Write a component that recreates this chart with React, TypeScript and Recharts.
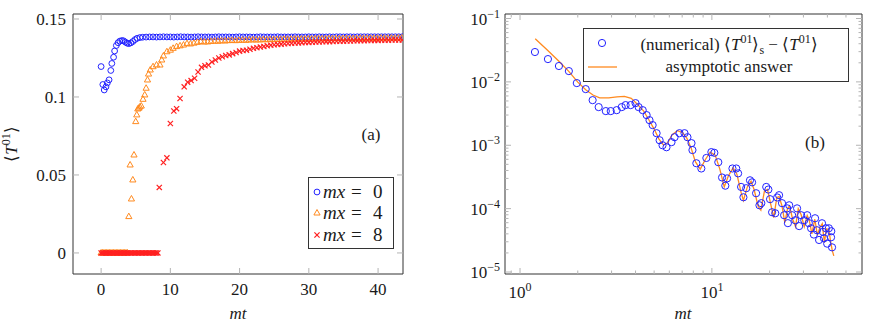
import React from "react";
import { ScatterChart, ComposedChart, Scatter, Line, XAxis, YAxis, ReferenceArea } from "recharts";

const FONT = "Liberation Serif";
const BLUE = "#2222ff";
const ORANGE = "#ff8a1f";
const RED = "#ff2020";
const TICK = "#b4b4b4";
const FRAME = "#333";
const INK = "#1a1a1a";

// ---- panel (a): <T01> against mt, three masses ----
const mx0: [number, number][] = [
  [0, 0.1195], [0.25, 0.108], [0.45, 0.1045], [0.7, 0.1065], [0.9, 0.109], [1.15, 0.111], [1.4, 0.117],
  [1.55, 0.1215], [1.8, 0.1255], [1.95, 0.1295], [2.2, 0.133], [2.45, 0.1348], [2.7, 0.1358], [3.0, 0.1362],
  [3.25, 0.136], [3.5, 0.1352], [3.75, 0.1345], [4.0, 0.1342], [4.3, 0.1347], [4.6, 0.1356], [4.9, 0.1368],
  [5.2, 0.1376], [5.6, 0.1381], [6.0, 0.1383], [6.5, 0.1384], [7.0, 0.1385], [7.5, 0.1385], [8.0, 0.1384],
  [8.5, 0.1385], [9.0, 0.1386], [9.5, 0.1385], [10.0, 0.1385], [10.5, 0.1384], [11.0, 0.1385], [11.5, 0.1386],
  [12.0, 0.1385], [12.5, 0.1385], [13.0, 0.1384], [13.5, 0.1385], [14.0, 0.1386], [14.5, 0.1385], [15.0, 0.1385],
  [15.5, 0.1385], [16.0, 0.1384], [16.5, 0.1385], [17.0, 0.1386], [17.5, 0.1385], [18.0, 0.1385], [18.5, 0.1385],
  [19.0, 0.1384], [19.5, 0.1385], [20.0, 0.1386], [20.5, 0.1385], [21.0, 0.1385], [21.5, 0.1385], [22.0, 0.1384],
  [22.5, 0.1385], [23.0, 0.1386], [23.5, 0.1385], [24.0, 0.1385], [24.5, 0.1385], [25.0, 0.1385], [25.5, 0.1386],
  [26.0, 0.1385], [26.5, 0.1385], [27.0, 0.1385], [27.5, 0.1385], [28.0, 0.1386], [28.5, 0.1385], [29.0, 0.1385],
  [29.5, 0.1385], [30.0, 0.1386], [30.5, 0.1385], [31.0, 0.1385], [31.5, 0.1386], [32.0, 0.1385], [32.5, 0.1385],
  [33.0, 0.1386], [33.5, 0.1385], [34.0, 0.1386], [34.5, 0.1386], [35.0, 0.1385], [35.5, 0.1386], [36.0, 0.1386],
  [36.5, 0.1385], [37.0, 0.1386], [37.5, 0.1386], [38.0, 0.1386], [38.5, 0.1386], [39.0, 0.1386], [39.5, 0.1386],
  [40.0, 0.1386], [40.5, 0.1386], [41.0, 0.1386], [41.5, 0.1386], [42.0, 0.1386], [42.5, 0.1386], [43.0, 0.1386],
  [43.5, 0.1386],
];

const mx4: [number, number][] = [
  [0, 0], [0.2, 0], [0.4, 0], [0.6, 0], [0.8, 0], [1.0, 0], [1.2, 0], [1.4, 0], [1.6, 0], [1.8, 0],
  [2.0, 0], [2.2, 0], [2.4, 0], [2.6, 0], [2.8, 0], [3.0, 0], [3.2, 0], [3.4, 0], [3.6, 0], [3.8, 0],
  [4.0, 0.0233], [4.19, 0.0564], [4.38, 0.0346], [4.58, 0.0468], [4.75, 0.0628], [5.0, 0.0842], [5.15, 0.0885],
  [5.3, 0.0923], [5.45, 0.0928], [5.6, 0.0936], [5.8, 0.0942], [6.05, 0.0985], [6.3, 0.1013], [6.5, 0.1056],
  [6.7, 0.1109], [6.85, 0.1147], [7.1, 0.1173], [7.5, 0.1194], [8.0, 0.1205], [8.5, 0.1205], [8.75, 0.1237],
  [9.0, 0.1263], [9.5, 0.129], [10.0, 0.13], [10.4, 0.1312], [10.9, 0.1323], [11.4, 0.1328], [11.9, 0.1333],
  [12.4, 0.1342], [12.9, 0.134], [13.4, 0.1345], [13.9, 0.135], [14.4, 0.1355], [14.9, 0.1352], [15.4, 0.1353],
  [15.9, 0.1356], [16.4, 0.1358], [16.9, 0.1357], [17.4, 0.136], [17.9, 0.1359], [18.4, 0.1361], [18.9, 0.1362],
  [19.4, 0.1361], [19.9, 0.1363], [20.4, 0.1364], [20.9, 0.1363], [21.4, 0.1365], [21.9, 0.1366], [22.4, 0.1365],
  [22.9, 0.1366], [23.4, 0.1367], [23.9, 0.1367], [24.4, 0.1368], [24.9, 0.1368], [25.4, 0.1369], [25.9, 0.1369],
  [26.4, 0.137], [26.9, 0.137], [27.4, 0.137], [27.9, 0.1371], [28.4, 0.1371], [28.9, 0.1371], [29.4, 0.1372],
  [29.9, 0.1372], [30.4, 0.1372], [30.9, 0.1373], [31.4, 0.1373], [31.9, 0.1373], [32.4, 0.1373], [32.9, 0.1374],
  [33.4, 0.1374], [33.9, 0.1374], [34.4, 0.1374], [34.9, 0.1375], [35.4, 0.1375], [35.9, 0.1375], [36.4, 0.1375],
  [36.9, 0.1375], [37.4, 0.1376], [37.9, 0.1376], [38.4, 0.1376], [38.9, 0.1376], [39.4, 0.1376], [39.9, 0.1377],
  [40.4, 0.1377], [40.9, 0.1377], [41.4, 0.1377], [41.9, 0.1377], [42.4, 0.1377], [42.9, 0.1378], [43.4, 0.1378],
];

const mx8: [number, number][] = [
  [0, 0], [0.2, 0], [0.4, 0], [0.6, 0], [0.8, 0], [1.0, 0], [1.2, 0], [1.4, 0], [1.6, 0], [1.8, 0],
  [2.0, 0], [2.2, 0], [2.4, 0], [2.6, 0], [2.8, 0], [3.0, 0], [3.2, 0], [3.4, 0], [3.6, 0], [3.8, 0],
  [4.0, 0], [4.2, 0], [4.4, 0], [4.6, 0], [4.8, 0], [5.0, 0], [5.2, 0], [5.4, 0], [5.6, 0], [5.8, 0],
  [6.0, 0], [6.2, 0], [6.4, 0], [6.6, 0], [6.8, 0], [7.0, 0], [7.2, 0], [7.4, 0], [7.6, 0], [7.8, 0],
  [8.0, 0], [8.2, 0],
  [8.4, 0.042], [9.0, 0.058], [9.5, 0.061], [10.0, 0.083], [10.5, 0.091], [10.9, 0.0925], [11.4, 0.099],
  [12.0, 0.1065], [12.5, 0.1095], [13.0, 0.1105], [13.5, 0.112], [14.0, 0.116], [14.5, 0.119], [15.0, 0.12],
  [15.5, 0.1205], [16.0, 0.1224], [16.5, 0.1237], [17.0, 0.125], [17.5, 0.1258], [18.0, 0.1266], [18.5, 0.127],
  [19.0, 0.1278], [19.5, 0.1285], [20.0, 0.1294], [20.5, 0.1298], [21.0, 0.13], [21.5, 0.1306], [22.0, 0.1312],
  [22.5, 0.1316], [23.0, 0.132], [23.5, 0.1324], [24.0, 0.1328], [24.5, 0.1332], [25.0, 0.1335], [25.5, 0.1337],
  [26.0, 0.1339], [26.5, 0.1341], [27.0, 0.1343], [27.5, 0.1344], [28.0, 0.1346], [28.5, 0.1347], [29.0, 0.1348],
  [29.5, 0.1349], [30.0, 0.135], [30.5, 0.1351], [31.0, 0.1352], [31.5, 0.1353], [32.0, 0.1354], [32.5, 0.1355],
  [33.0, 0.1355], [33.5, 0.1356], [34.0, 0.1357], [34.5, 0.1357], [35.0, 0.1358], [35.5, 0.1359], [36.0, 0.1359],
  [36.5, 0.136], [37.0, 0.136], [37.5, 0.1361], [38.0, 0.1361], [38.5, 0.1362], [39.0, 0.1362], [39.5, 0.1363],
  [40.0, 0.1363], [40.5, 0.1364], [41.0, 0.1364], [41.5, 0.1364], [42.0, 0.1365], [42.5, 0.1365], [43.0, 0.1365],
  [43.5, 0.1365],
];

const ticksA_x = [0, 10, 20, 30, 40];
const ticksA_y = [0, 0.05, 0.1, 0.15];
const labelsA_y: Record<number, string> = { 0: "0", 0.05: "0.05", 0.1: "0.1", 0.15: "0.15" };

// ---- panel (b): log-log, numerical vs asymptotic ----
const numerical: [number, number][] = [
  [1.196, 0.0296], [1.398, 0.0229], [1.595, 0.0178], [1.797, 0.0148], [1.977, 0.00957], [2.2, 0.00769],
  [2.39, 0.00515], [2.57, 0.004], [2.8, 0.00346], [2.97, 0.00346], [3.19, 0.00358], [3.39, 0.004], [3.55, 0.0043],
  [3.77, 0.0043], [4.0, 0.00462], [4.15, 0.004], [4.36, 0.00358], [4.57, 0.00299], [4.73, 0.00249], [4.91, 0.00208],
  [5.15, 0.00155], [5.34, 0.0012], [5.53, 0.001], [5.8, 0.00093], [6.16, 0.00112], [6.39, 0.00134], [6.78, 0.00155],
  [7.2, 0.00155], [7.46, 0.00134], [7.83, 0.00108], [7.92, 0.00084], [8.3, 0.00052], [8.81, 0.00043], [9.36, 0.00063],
  [9.94, 0.00078], [10.3, 0.00076], [10.8, 0.00054], [11.3, 0.00031], [11.75, 0.00023], [12.0, 0.0003], [12.8, 0.00043],
  [13.4, 0.00043], [13.7, 0.00036], [14.2, 0.00022], [14.6, 0.000151], [15.1, 0.00021], [15.8, 0.00028], [16.2, 0.00026],
  [17.0, 0.000175], [17.7, 0.000113], [18.1, 0.000122], [19.2, 0.00022], [19.7, 0.0002], [20.1, 0.000141],
  [20.6, 0.0000877], [21.4, 0.0000845], [21.9, 0.00015], [22.4, 0.000163], [23.2, 0.000122], [23.8, 0.0000787],
  [24.7, 0.000101], [24.9, 0.000059], [25.3, 0.000113], [26.2, 0.0000787], [27.2, 0.0000656], [27.8, 0.000101],
  [28.5, 0.000053], [29.2, 0.0000787], [30.3, 0.0000656], [31.4, 0.0000787], [32.0, 0.000059], [32.9, 0.000049],
  [34.0, 0.000039], [34.5, 0.0000705], [35.3, 0.0000456], [36.2, 0.000032], [37.5, 0.0000588], [37.9, 0.000043],
  [38.4, 0.000034], [39.3, 0.000049], [39.9, 0.000028], [40.7, 0.000049], [41.8, 0.0000353], [41.9, 0.000044],
  [42.3, 0.0000245],
];

const asymptotic: [number, number][] = [
  [1.2, 0.048], [1.4, 0.031], [1.6, 0.021], [1.8, 0.0145], [2.0, 0.0099], [2.2, 0.0075], [2.4, 0.0062], [2.6, 0.0056],
  [2.9, 0.0056], [3.2, 0.0058], [3.5, 0.0059], [3.8, 0.0055], [4.1, 0.0044], [4.4, 0.0035], [4.7, 0.0025], [5.0, 0.0018],
  [5.3, 0.00125], [5.6, 0.001], [5.9, 0.0011], [6.2, 0.00145], [6.6, 0.0017], [7.0, 0.0016], [7.4, 0.0013], [7.8, 0.0009],
  [8.2, 0.00055], [8.7, 0.00042], [9.2, 0.00058], [9.8, 0.00078], [10.4, 0.0007], [11.0, 0.00042], [11.6, 0.00022],
  [12.2, 0.00033], [12.9, 0.00044], [13.5, 0.00035], [14.2, 0.00018], [14.6, 0.000135], [15.3, 0.00022], [16.0, 0.00027],
  [16.6, 0.0002], [17.4, 0.00011], [18.0, 0.000095], [18.8, 0.00019], [19.5, 0.0002], [20.3, 0.000115], [21.0, 0.000072],
  [21.8, 0.00015], [22.4, 0.000155], [23.2, 0.00011], [24.0, 0.00006], [24.8, 0.0001], [25.4, 0.00011], [26.3, 0.00007],
  [27.3, 0.000052], [28.2, 0.0001], [29.2, 0.00008], [30.3, 0.000052], [31.4, 0.000078], [32.2, 0.000065], [33.2, 0.00004],
  [34.4, 0.000068], [35.5, 0.000038], [36.5, 0.00005], [37.6, 0.000058], [38.6, 0.000029], [39.5, 0.000048],
  [40.7, 0.000047], [41.6, 0.00003], [42.4, 0.000022], [43.2, 0.000018],
];

const ticksB_x = [0.9, 1, 2, 3, 4, 5, 6, 7, 8, 9, 10, 20, 30, 40, 50];
const ticksB_y = [
  1e-5, 2e-5, 3e-5, 4e-5, 5e-5, 6e-5, 7e-5, 8e-5, 9e-5,
  1e-4, 2e-4, 3e-4, 4e-4, 5e-4, 6e-4, 7e-4, 8e-4, 9e-4,
  1e-3, 2e-3, 3e-3, 4e-3, 5e-3, 6e-3, 7e-3, 8e-3, 9e-3,
  1e-2, 2e-2, 3e-2, 4e-2, 5e-2, 6e-2, 7e-2, 8e-2, 9e-2, 1e-1,
];
const decadesB_x: Record<number, string> = { 1: "0", 10: "1" };
const decadesB_y: Record<number, string> = { 1e-5: "\u22125", 1e-4: "\u22124", 1e-3: "\u22123", 1e-2: "\u22122", 1e-1: "\u22121" };

const toPts = (arr: [number, number][]) => arr.map(([t, v]) => ({ t, v }));

// plot boxes (chart-local coordinates)
const A = { left: 73, right: 403, top: 14, bottom: 274 };
const B = { left: 55, right: 412, top: 14, bottom: 274 };

const Circle = (r: number) => (p: any) => (
  <circle cx={p.cx} cy={p.cy} r={r} fill="none" stroke={BLUE} strokeWidth={1} />
);
const Tri = (p: any) => (
  <polygon points={`${p.cx},${p.cy - 3.5} ${p.cx - 3.1},${p.cy + 2} ${p.cx + 3.1},${p.cy + 2}`} fill="none" stroke={ORANGE} strokeWidth={1} />
);
const Cross = (p: any) => (
  <g stroke={RED} strokeWidth={1.2}>
    <line x1={p.cx - 2.6} y1={p.cy - 2.6} x2={p.cx + 2.6} y2={p.cy + 2.6} />
    <line x1={p.cx - 2.6} y1={p.cy + 2.6} x2={p.cx + 2.6} y2={p.cy - 2.6} />
  </g>
);

const txt = { fontSize: 17, fill: INK, style: { fontFamily: FONT } };

const TickAX = ({ x, payload }: any) => (
  <g>
    <line x1={x} x2={x} y1={A.bottom} y2={A.bottom - 6} stroke={TICK} />
    <line x1={x} x2={x} y1={A.top} y2={A.top + 6} stroke={TICK} />
    <text x={x} y={295} textAnchor="middle" {...txt}>{payload.value}</text>
  </g>
);
const TickAY = ({ y, payload }: any) => (
  <g>
    <line x1={A.left} x2={A.left + 6} y1={y} y2={y} stroke={TICK} />
    <line x1={A.right} x2={A.right - 6} y1={y} y2={y} stroke={TICK} />
    <text x={66} y={y + 6} textAnchor="end" {...txt}>{labelsA_y[payload.value]}</text>
  </g>
);
const TickBX = ({ x, payload }: any) => {
  const exp = decadesB_x[payload.value];
  const len = exp !== undefined ? 6 : 3.5;
  return (
    <g>
      <line x1={x} x2={x} y1={B.bottom} y2={B.bottom - len} stroke={TICK} />
      <line x1={x} x2={x} y1={B.top} y2={B.top + len} stroke={TICK} />
      {exp !== undefined && (
        <text x={x} y={298} textAnchor="middle" {...txt}>
          10<tspan dy={-7} fontSize={12}>{exp}</tspan>
        </text>
      )}
    </g>
  );
};
const TickBY = ({ y, payload }: any) => {
  const exp = decadesB_y[payload.value];
  const len = exp !== undefined ? 6 : 3.5;
  return (
    <g>
      <line x1={B.left} x2={B.left + len} y1={y} y2={y} stroke={TICK} />
      <line x1={B.right} x2={B.right - len} y1={y} y2={y} stroke={TICK} />
      {exp !== undefined && (
        <text x={50} y={y + 6} textAnchor="end" {...txt}>
          10<tspan dy={-7} fontSize={12}>{exp}</tspan>
        </text>
      )}
    </g>
  );
};

const xDomA: [number, number] = [-4.06, 43.6];
const yDomA: [number, number] = [-0.0135, 0.1532];
const xDomB: [number, number] = [0.835, 60.6];
const yDomB: [number, number] = [9.3e-6, 0.1178];

function PanelA() {
  return (
    <ScatterChart width={420} height={326} margin={{ top: 14, right: 17, bottom: 22, left: 0 }}>
      <XAxis type="number" dataKey="t" domain={xDomA} allowDataOverflow ticks={ticksA_x} interval={0}
        axisLine={false} tickLine={false} tick={<TickAX />} height={30} />
      <YAxis type="number" dataKey="v" domain={yDomA} allowDataOverflow ticks={ticksA_y} interval={0}
        axisLine={false} tickLine={false} tick={<TickAY />} width={73} />
      <Scatter data={toPts(mx0)} shape={Circle(2.9)} isAnimationActive={false} />
      <Scatter data={toPts(mx4)} shape={Tri} isAnimationActive={false} />
      <Scatter data={toPts(mx8)} shape={Cross} isAnimationActive={false} />
      <ReferenceArea x1={xDomA[0]} x2={xDomA[1]} y1={yDomA[0]} y2={yDomA[1]} fill="none" stroke={FRAME} strokeWidth={1} ifOverflow="visible" />
    </ScatterChart>
  );
}

function PanelB() {
  return (
    <ComposedChart width={422} height={326} margin={{ top: 14, right: 10, bottom: 22, left: 0 }}>
      <XAxis type="number" dataKey="t" scale="log" domain={xDomB} allowDataOverflow ticks={ticksB_x} interval={0}
        axisLine={false} tickLine={false} tick={<TickBX />} height={30} />
      <YAxis type="number" dataKey="v" scale="log" domain={yDomB} allowDataOverflow ticks={ticksB_y} interval={0}
        axisLine={false} tickLine={false} tick={<TickBY />} width={55} />
      <Scatter data={toPts(numerical)} shape={Circle(3.6)} isAnimationActive={false} />
      <Line data={toPts(asymptotic)} dataKey="v" type="linear" stroke={ORANGE} strokeWidth={1.3} dot={false} isAnimationActive={false} />
      <ReferenceArea x1={xDomB[0]} x2={xDomB[1]} y1={yDomB[0]} y2={yDomB[1]} fill="none" stroke={FRAME} strokeWidth={1} ifOverflow="visible" />
    </ComposedChart>
  );
}

export default function App() {
  return (
    <div style={{ position: "absolute", left: 0, top: 0, width: 872, height: 326, background: "#fff", overflow: "hidden", fontFamily: FONT }}>
      <div style={{ position: "absolute", left: 0, top: 0 }}>
        <PanelA />
      </div>
      <div style={{ position: "absolute", left: 450, top: 0 }}>
        <PanelB />
      </div>
      <svg width={872} height={326} style={{ position: "absolute", left: 0, top: 0, pointerEvents: "none" }}>
        {/* axis titles */}
        <text transform="translate(17,144) rotate(-90)" textAnchor="middle" {...txt}>
          {"\u27E8"}<tspan fontStyle="italic">T</tspan><tspan dy={-7} fontSize={12}>01</tspan><tspan dy={7}>{"\u27E9"}</tspan>
        </text>
        <text x={238} y={319} textAnchor="middle" {...txt} fontStyle="italic">mt</text>
        <text x={683} y={319} textAnchor="middle" {...txt} fontStyle="italic">mt</text>
        <text x={371} y={140} textAnchor="middle" {...txt}>(a)</text>
        <text x={815} y={148} textAnchor="middle" {...txt}>(b)</text>

        {/* legend (a) */}
        <rect x={308.5} y={177.5} width={85} height={71} fill="#fff" stroke={FRAME} />
        <circle cx={317} cy={192} r={2.9} fill="none" stroke={BLUE} strokeWidth={1} />
        <polygon points="317,209.5 313.9,215 320.1,215" fill="none" stroke={ORANGE} strokeWidth={1} />
        <g stroke={RED} strokeWidth={1.2}>
          <line x1={314.4} y1={232.4} x2={319.6} y2={237.6} />
          <line x1={314.4} y1={237.6} x2={319.6} y2={232.4} />
        </g>
        {[["0", 198], ["4", 219], ["8", 241]].map(([n, y]) => (
          <text key={n as string} y={y as number} {...txt} fontSize={19}>
            <tspan x={323} fontStyle="italic">mx</tspan>
            <tspan x={351}>=</tspan>
            <tspan x={373}>{n}</tspan>
          </text>
        ))}

        {/* legend (b) */}
        <rect x={583.5} y={28.5} width={265} height={53} fill="#fff" stroke={FRAME} />
        <circle cx={602} cy={43} r={3.6} fill="none" stroke={BLUE} strokeWidth={1} />
        <line x1={588} x2={617} y1={67} y2={67} stroke={ORANGE} strokeWidth={1.3} />
        <text x={729} y={50} textAnchor="middle" {...txt}>
          (numerical) {"\u27E8"}<tspan fontStyle="italic">T</tspan><tspan dy={-7} fontSize={12}>01</tspan>
          <tspan dy={7}>{"\u27E9"}</tspan><tspan dy={4} fontSize={12}>s</tspan>
          <tspan dy={-4}> {"\u2212"} {"\u27E8"}</tspan><tspan fontStyle="italic">T</tspan><tspan dy={-7} fontSize={12}>01</tspan>
          <tspan dy={7}>{"\u27E9"}</tspan>
        </text>
        <text x={729} y={72} textAnchor="middle" {...txt}>asymptotic answer</text>
      </svg>
    </div>
  );
}
